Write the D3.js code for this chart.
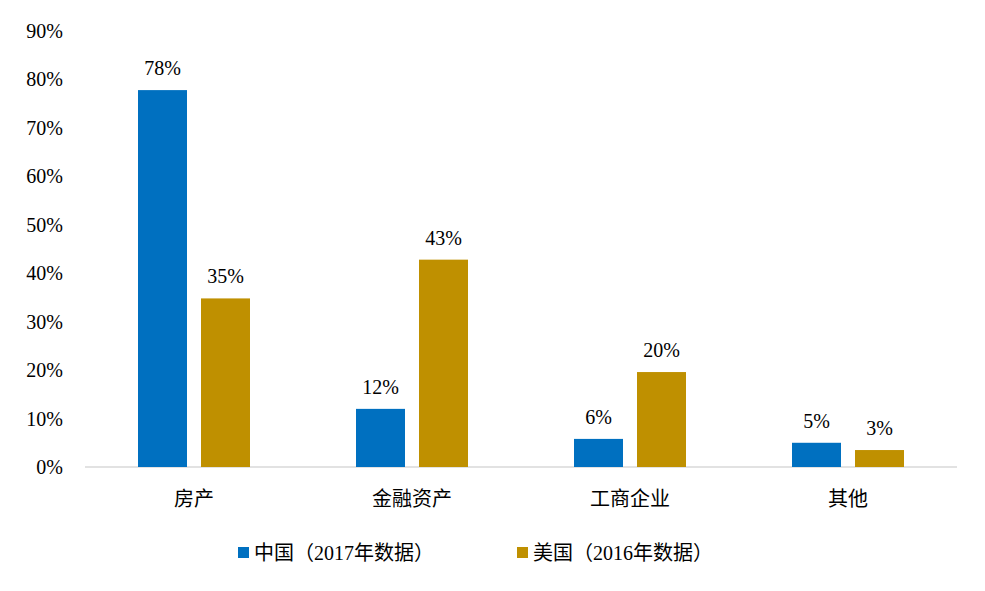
<!DOCTYPE html>
<html><head><meta charset="utf-8">
<script src="https://cdn.jsdelivr.net/npm/d3@7"></script>
<style>body{margin:0;background:#fff}text{font-family:"Liberation Serif","Noto Sans CJK SC",serif;fill:#000}</style>
</head><body><svg id="c" width="985" height="591"></svg>
<script>
var categories = ["房产", "金融资产", "工商企业", "其他"];
var seriesNames = ["中国（2017年数据）", "美国（2016年数据）"];
var china = [77.8, 12.0, 5.8, 5.0];
var usa = [34.8, 42.8, 19.6, 3.5];
var chinaLabels = ["78%", "12%", "6%", "5%"];
var usaLabels = ["35%", "43%", "20%", "3%"];
var yTicks = [0, 10, 20, 30, 40, 50, 60, 70, 80, 90];
var colors = ["#0070C0", "#BF9000"];

var svg = d3.select("#c");
var x = d3.scaleBand().domain(categories).range([85, 957]);
var y = d3.scaleLinear().domain([0, 90]).range([467, 31]);
var bw = 49, gap = 14;

svg.selectAll(".yt").data(yTicks).enter().append("text")
  .attr("x", 63).attr("y", d => y(d)).attr("dy", "0.35em")
  .attr("text-anchor", "end").style("font-size", "20px").text(d => d + "%");

svg.append("line").attr("x1", 85).attr("x2", 957).attr("y1", 467).attr("y2", 467)
  .style("stroke", "#d9d9d9").style("stroke-width", 1.5);

[china, usa].forEach(function(vals, s) {
  var labels = s == 0 ? chinaLabels : usaLabels;
  var off = s == 0 ? -gap / 2 - bw : gap / 2;
  var g = svg.append("g");
  g.selectAll("rect").data(vals).enter().append("rect")
    .attr("x", (d, i) => x(categories[i]) + x.bandwidth() / 2 + off)
    .attr("width", bw).attr("y", d => y(d)).attr("height", d => 467 - y(d))
    .style("fill", colors[s]);
  g.selectAll("text").data(vals).enter().append("text")
    .attr("x", (d, i) => x(categories[i]) + x.bandwidth() / 2 + off + bw / 2)
    .attr("y", d => y(d) - 15).attr("text-anchor", "middle")
    .style("font-size", "20px").text((d, i) => labels[i]);
});

svg.selectAll(".xl").data(categories).enter().append("text")
  .attr("x", d => x(d) + x.bandwidth() / 2).attr("y", 506)
  .attr("text-anchor", "middle").style("font-size", "20px").text(d => d);

var lx = [238, 517];
seriesNames.forEach(function(n, i) {
  svg.append("rect").attr("x", lx[i]).attr("y", 547).attr("width", 11).attr("height", 11).style("fill", colors[i]);
  svg.append("text").attr("x", lx[i] + 16).attr("y", 560).style("font-size", "20px").text(n);
});
</script></body></html>
